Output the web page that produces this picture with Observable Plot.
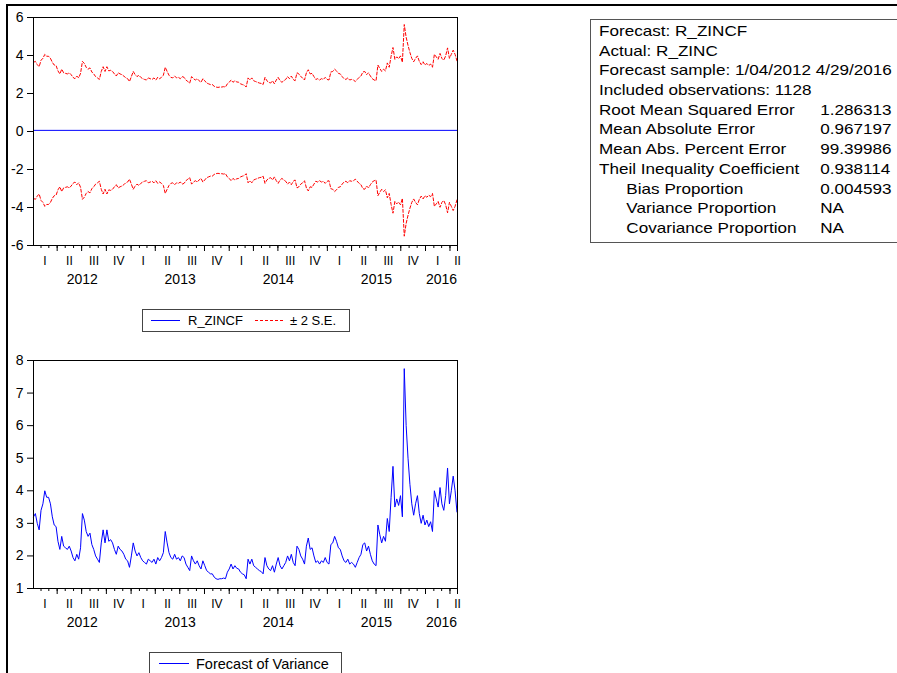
<!DOCTYPE html>
<html><head><meta charset="utf-8">
<script src="https://cdn.jsdelivr.net/npm/d3@7"></script>
<script src="https://cdn.jsdelivr.net/npm/@observablehq/plot@0.6"></script>
<style>
html,body{margin:0;padding:0;background:#fff;}
#root{position:relative;width:897px;height:673px;overflow:hidden;background:#fff;font-family:Arial,"Liberation Sans",sans-serif;color:#000;}
.outer{position:absolute;left:6px;top:4px;width:1000px;height:1000px;border-left:2px solid #000;border-top:2px solid #000;}
.legend{position:absolute;border:1px solid #444;background:#fff;font-size:13px;height:21px;}
.legend span{position:absolute;top:3px;white-space:nowrap;}
.legend svg{position:absolute;top:0;left:0;}
.stats{position:absolute;left:590px;top:19px;width:330px;height:222px;border:1px solid #555;}
.stats .inner{position:absolute;left:8px;top:1px;transform:scaleX(1.14);transform-origin:0 0;font-size:15px;}
.stats .row{position:relative;height:19.7px;line-height:19.7px;white-space:nowrap;}
.stats .val{position:absolute;left:194px;top:0;}
</style></head><body><div id="root"><div class="outer"></div></div>
<script>
// ---------------- data ----------------
const sampleStart = "2012-01-04";
const sampleEnd = "2016-04-29";
const forecastLevel = 0.06; // R_ZINCF (flat forecast)

// Forecast of variance, weekly readings from 2012-01-04
const variance = [
 3.2,3.3,3.0,2.8,3.4,3.6,4.0,3.8,3.8,3.6,
 3.2,2.95,2.9,2.45,2.2,2.6,2.3,2.25,2.2,2.3,
 2.15,1.95,1.85,2.05,1.9,2.25,3.3,3.1,2.75,2.6,
 2.7,2.35,2.2,2.0,1.9,1.8,2.4,2.8,2.4,2.8,
 2.45,2.5,2.4,2.2,2.05,2.3,2.2,2.15,2.05,1.9,
 1.85,1.65,2.0,2.4,2.15,2.0,2.1,1.95,1.85,1.8,
 1.75,1.9,1.85,1.8,1.9,1.75,1.95,1.85,1.95,2.1,
 2.75,2.4,2.1,1.95,1.9,2.05,1.9,1.95,1.85,2.0,
 1.95,1.75,1.65,1.55,2.0,1.85,1.75,1.85,1.7,1.6,
 1.85,1.7,1.55,1.5,1.45,1.45,1.35,1.3,1.28,1.3,
 1.3,1.32,1.3,1.5,1.6,1.75,1.6,1.7,1.62,1.6,
 1.5,1.45,1.42,1.3,1.9,1.75,1.9,1.7,1.65,1.6,
 1.55,1.52,1.45,1.95,1.7,1.6,1.55,1.7,1.5,1.75,
 1.95,1.7,1.6,1.7,1.8,2.0,1.85,2.05,1.8,1.7,
 2.3,2.2,2.0,1.9,1.75,2.3,2.55,2.2,2.25,2.0,
 1.8,1.85,1.75,1.85,1.8,1.95,1.8,1.75,2.35,2.4,
 2.6,2.45,2.25,2.2,2.0,1.85,1.8,1.9,1.75,1.8,
 1.75,1.65,1.8,1.95,2.05,2.35,2.4,2.15,2.3,2.05,
 1.85,1.75,1.7,2.95,2.65,2.4,2.6,2.45,3.15,2.75,
 3.8,4.75,3.5,3.75,3.55,3.85,3.2,7.75,6.0,5.0,
 4.2,3.6,3.25,3.6,3.85,3.3,3.0,3.25,2.95,3.1,
 2.9,3.05,2.75,4.0,3.75,3.5,4.1,3.6,3.4,3.85,
 4.7,3.6,4.0,4.45,4.0,3.35
];
// upper band (+2 S.E.)
const sePlus = [
 3.64,3.69,3.52,3.41,3.75,3.85,4.06,3.96,3.96,3.85,
 3.64,3.50,3.47,3.19,3.03,3.28,3.09,3.06,3.03,3.09,
 2.99,2.85,2.78,2.92,2.82,3.06,3.69,3.58,3.38,3.28,
 3.35,3.13,3.03,2.89,2.82,2.74,3.16,3.41,3.16,3.41,
 3.19,3.22,3.16,3.03,2.92,3.09,3.03,2.99,2.92,2.82,
 2.78,2.63,2.89,3.16,2.99,2.89,2.96,2.85,2.78,2.74,
 2.71,2.82,2.78,2.74,2.82,2.71,2.85,2.78,2.85,2.96,
 3.38,3.16,2.96,2.85,2.82,2.92,2.82,2.85,2.78,2.89,
 2.85,2.71,2.63,2.55,2.89,2.78,2.71,2.78,2.67,2.59,
 2.78,2.67,2.55,2.51,2.47,2.47,2.38,2.34,2.32,2.34,
 2.34,2.36,2.34,2.51,2.59,2.71,2.59,2.67,2.61,2.59,
 2.51,2.47,2.44,2.34,2.82,2.71,2.82,2.67,2.63,2.59,
 2.55,2.53,2.47,2.85,2.67,2.59,2.55,2.67,2.51,2.71,
 2.85,2.67,2.59,2.67,2.74,2.89,2.78,2.92,2.74,2.67,
 3.09,3.03,2.89,2.82,2.71,3.09,3.25,3.03,3.06,2.89,
 2.74,2.78,2.71,2.78,2.74,2.85,2.74,2.71,3.13,3.16,
 3.28,3.19,3.06,3.03,2.89,2.78,2.74,2.82,2.71,2.74,
 2.71,2.63,2.74,2.85,2.92,3.13,3.16,2.99,3.09,2.92,
 2.78,2.71,2.67,3.50,3.32,3.16,3.28,3.19,3.61,3.38,
 3.96,4.42,3.80,3.93,3.83,3.98,3.64,5.63,4.96,4.53,
 4.16,3.85,3.67,3.85,3.98,3.69,3.52,3.67,3.50,3.58,
 3.47,3.55,3.38,4.06,3.93,3.80,4.11,3.85,3.75,3.98,
 4.40,3.85,4.06,4.28,4.06,3.72
];
// lower band (-2 S.E.)
const seMinus = [
 -3.52,-3.57,-3.40,-3.29,-3.63,-3.73,-3.94,-3.84,-3.84,-3.73,
 -3.52,-3.38,-3.35,-3.07,-2.91,-3.16,-2.97,-2.94,-2.91,-2.97,
 -2.87,-2.73,-2.66,-2.80,-2.70,-2.94,-3.57,-3.46,-3.26,-3.16,
 -3.23,-3.01,-2.91,-2.77,-2.70,-2.62,-3.04,-3.29,-3.04,-3.29,
 -3.07,-3.10,-3.04,-2.91,-2.80,-2.97,-2.91,-2.87,-2.80,-2.70,
 -2.66,-2.51,-2.77,-3.04,-2.87,-2.77,-2.84,-2.73,-2.66,-2.62,
 -2.59,-2.70,-2.66,-2.62,-2.70,-2.59,-2.73,-2.66,-2.73,-2.84,
 -3.26,-3.04,-2.84,-2.73,-2.70,-2.80,-2.70,-2.73,-2.66,-2.77,
 -2.73,-2.59,-2.51,-2.43,-2.77,-2.66,-2.59,-2.66,-2.55,-2.47,
 -2.66,-2.55,-2.43,-2.39,-2.35,-2.35,-2.26,-2.22,-2.20,-2.22,
 -2.22,-2.24,-2.22,-2.39,-2.47,-2.59,-2.47,-2.55,-2.49,-2.47,
 -2.39,-2.35,-2.32,-2.22,-2.70,-2.59,-2.70,-2.55,-2.51,-2.47,
 -2.43,-2.41,-2.35,-2.73,-2.55,-2.47,-2.43,-2.55,-2.39,-2.59,
 -2.73,-2.55,-2.47,-2.55,-2.62,-2.77,-2.66,-2.80,-2.62,-2.55,
 -2.97,-2.91,-2.77,-2.70,-2.59,-2.97,-3.13,-2.91,-2.94,-2.77,
 -2.62,-2.66,-2.59,-2.66,-2.62,-2.73,-2.62,-2.59,-3.01,-3.04,
 -3.16,-3.07,-2.94,-2.91,-2.77,-2.66,-2.62,-2.70,-2.59,-2.62,
 -2.59,-2.51,-2.62,-2.73,-2.80,-3.01,-3.04,-2.87,-2.97,-2.80,
 -2.66,-2.59,-2.55,-3.38,-3.20,-3.04,-3.16,-3.07,-3.49,-3.26,
 -3.84,-4.30,-3.68,-3.81,-3.71,-3.86,-3.52,-5.51,-4.84,-4.41,
 -4.04,-3.73,-3.55,-3.73,-3.86,-3.57,-3.40,-3.55,-3.38,-3.46,
 -3.35,-3.43,-3.26,-3.94,-3.81,-3.68,-3.99,-3.73,-3.63,-3.86,
 -4.28,-3.73,-3.94,-4.16,-3.94,-3.60
];
const topTicks = [-6,-4,-2,0,2,4,6];
const bottomTicks = [1,2,3,4,5,6,7,8];
const quarterNames = ["I","II","III","IV"];
const statLabels = ["Forecast: R_ZINCF","Actual: R_ZINC","Forecast sample: 1/04/2012 4/29/2016","Included observations: 1128","Root Mean Squared Error","Mean Absolute Error","Mean Abs. Percent Error","Theil Inequality Coefficient","Bias Proportion","Variance Proportion","Covariance Proportion"];
const statValues = ["","","","","1.286313","0.967197","99.39986","0.938114","0.004593","NA","NA"];
const statIndent = [0,0,0,0,0,0,0,0,1,1,1];
const legendTop = ["R_ZINCF","\u00b1 2 S.E."];
const legendBottom = ["Forecast of Variance"];

// ---------------- build ----------------
const start = new Date(sampleStart + "T00:00:00Z");
const end = new Date(sampleEnd + "T00:00:00Z");
const dates = variance.map((_, i) => d3.utcDay.offset(start, 7 * i));
const rows = dates.map((d, i) => ({date: d, variance: variance[i], upper: sePlus[i], lower: seMinus[i]}));

const months = d3.utcMonth.range(d3.utcMonth.ceil(start), end);
const quarterStarts = months.filter(d => d.getUTCMonth() % 3 === 0);
const q3 = d3.utcMonth.every(3);
const quarterMids = q3.range(q3.floor(start), end).map(q => {
  const n = q3.offset(q, 1);
  let m = new Date((+q + +n) / 2);
  if (m < start) m = start; if (m > end) m = end;
  return {date: m, q: Math.floor(q.getUTCMonth() / 3)};
});
const yearMids = d3.utcYear.range(d3.utcYear.floor(start), end).map(y => {
  const a = y < start ? start : y;
  const bRaw = d3.utcYear.offset(y, 1);
  const b = bRaw > end ? end : bRaw;
  return {date: new Date((+a + +b) / 2), y: y.getUTCFullYear()};
});
const qMap = new Map(quarterMids.map(d => [+d.date, quarterNames[d.q]]));
const yMap = new Map(yearMids.map(d => [+d.date, String(d.y)]));

const font = 'Arial, "Liberation Sans", sans-serif';
function xAxes() {
  return [
    Plot.axisX(months, {tickSize: 3, tickFormat: () => "", label: null, strokeWidth: 1}),
    Plot.axisX(quarterStarts.concat([end]), {tickSize: 6, tickFormat: () => "", label: null, strokeWidth: 1}),
    Plot.axisX(quarterMids.map(d => d.date), {tickSize: 0, tickPadding: 11, tickFormat: d => qMap.get(+d), fontSize: 12, label: null}),
    Plot.axisX(yearMids.map(d => d.date), {tickSize: 0, tickPadding: 29, tickFormat: d => yMap.get(+d), fontSize: 14, label: null})
  ];
}
const common = {
  width: 470, height: 300,
  marginLeft: 33, marginRight: 13, marginTop: 17, marginBottom: 55,
  style: {fontFamily: font, fontSize: "14px", color: "#000", background: "transparent", overflow: "visible"}
};

const topChart = Plot.plot({
  ...common,
  x: {type: "utc", domain: [start, end], label: null},
  y: {domain: [-6, 6], label: null},
  marks: [
    Plot.ruleY([forecastLevel], {stroke: "#0000ff", strokeWidth: 1}),
    Plot.lineY(rows, {x: "date", y: "upper", stroke: "#ff0000", strokeWidth: 1, strokeDasharray: "3,2"}),
    Plot.lineY(rows, {x: "date", y: "lower", stroke: "#ff0000", strokeWidth: 1, strokeDasharray: "3,2"}),
    Plot.frame({stroke: "#000"}),
    Plot.axisY(topTicks, {tickSize: 6, tickPadding: 4, tickFormat: d => String(d), fontSize: 14, label: null}),
    ...xAxes()
  ]
});
topChart.style.position = "absolute"; topChart.style.left = "0px"; topChart.style.top = "0px";

const bottomChart = Plot.plot({
  ...common,
  x: {type: "utc", domain: [start, end], label: null},
  y: {domain: [1, 8], label: null},
  marks: [
    Plot.lineY(rows, {x: "date", y: "variance", stroke: "#0000ff", strokeWidth: 1}),
    Plot.frame({stroke: "#000"}),
    Plot.axisY(bottomTicks, {tickSize: 6, tickPadding: 4, tickFormat: d => String(d), fontSize: 14, label: null}),
    ...xAxes()
  ]
});
bottomChart.style.position = "absolute"; bottomChart.style.left = "0px"; bottomChart.style.top = "343px";

const root = document.getElementById("root");
root.appendChild(topChart);
root.appendChild(bottomChart);

// legends
function legend(left, topPx, width, items, fontSize) {
  const box = document.createElement("div");
  box.className = "legend";
  box.style.left = left + "px"; box.style.top = topPx + "px"; box.style.width = width + "px";
  box.style.fontSize = fontSize + "px";
  let svg = `<svg width="${width}" height="21">`;
  let html = "";
  for (const it of items) {
    svg += `<line x1="${it.x0}" x2="${it.x1}" y1="10.5" y2="10.5" stroke="${it.color}" stroke-width="1" ${it.dash ? `stroke-dasharray="${it.dash}"` : ""}/>`;
    html += `<span style="left:${it.tx}px">${it.label}</span>`;
  }
  svg += "</svg>";
  box.innerHTML = svg + html;
  root.appendChild(box);
}
legend(142, 309, 206, [
  {x0: 8, x1: 37, color: "#0000ff", label: legendTop[0], tx: 45},
  {x0: 112, x1: 142, color: "#ff0000", dash: "3,2", label: legendTop[1], tx: 147}
], 13);
legend(149, 652, 191, [
  {x0: 9, x1: 39, color: "#0000ff", label: legendBottom[0], tx: 46}
], 14.5);

// stats table
const stats = document.createElement("div");
stats.className = "stats";
const inner = document.createElement("div");
inner.className = "inner";
statLabels.forEach((lab, i) => {
  const r = document.createElement("div");
  r.className = "row";
  r.innerHTML = `<span style="padding-left:${statIndent[i] ? 24 : 0}px">${lab}</span>` + (statValues[i] ? `<span class="val">${statValues[i]}</span>` : "");
  inner.appendChild(r);
});
stats.appendChild(inner);
root.appendChild(stats);
</script></body></html>
